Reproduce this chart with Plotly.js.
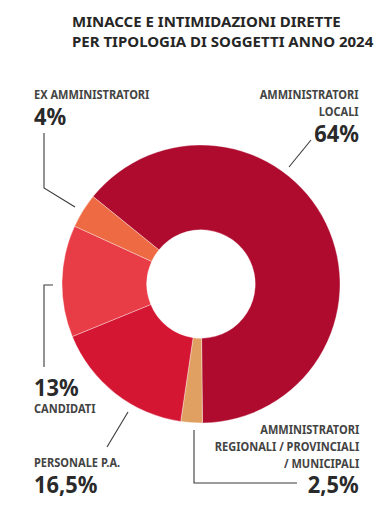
<!DOCTYPE html>
<html>
<head>
<meta charset="utf-8">
<script src="https://cdn.plot.ly/plotly-3.0.1.min.js"></script>
<style>
html,body{margin:0;padding:0;background:#fff;}
#chart{width:388px;height:517px;}
#chart text{font-stretch:condensed;}
#chart text.annotation-text{transform-box:fill-box;}
#chart text.annotation-text[text-anchor="start"]{transform-origin:left center;}
#chart text.annotation-text[text-anchor="end"]{transform-origin:right center;}
#chart text.annotation-text[style*="font-size: 13px"]{transform:scaleX(0.85);}
#chart text.annotation-text[style*="font-size: 23px"]{transform:scaleX(0.95);}
</style>
</head>
<body>
<div id="chart"></div>
<script>
// ---- data ----
var categories = ['AMMINISTRATORI<br>LOCALI', 'AMMINISTRATORI<br>REGIONALI / PROVINCIALI<br>/ MUNICIPALI', 'PERSONALE P.A.', 'CANDIDATI', 'EX AMMINISTRATORI'];
var values = [64, 2.5, 16.5, 13, 4];
var sliceColors = ['#ae0b2e', '#e0a062', '#d51633', '#e83c46', '#ee6a43'];
var titleText = 'MINACCE E INTIMIDAZIONI DIRETTE<br>PER TIPOLOGIA DI SOGGETTI ANNO 2024';

// ---- helpers ----
var W = 388, H = 517;
function px(x){ return x / W; }
function py(y){ return 1 - y / H; }
function pct(v){ return String(v).replace('.', ',') + '%'; }
var FONT = 'Noto Sans Condensed, Noto Sans, Open Sans, DejaVu Sans Condensed, sans-serif';
var labelFont = {family: FONT, size: 13, color: '#444444', weight: 'bold'};
var valueFont = {family: FONT, size: 23, color: '#2a2a2a', weight: 'bold'};

// center (201,284), r 139
var cx = 201, cy = 284, R = 139;

var trace = {
  type: 'pie',
  labels: categories,
  values: values,
  sort: false,
  direction: 'clockwise',
  rotation: -51,
  hole: 0.39,
  textinfo: 'none',
  hoverinfo: 'label+value',
  marker: {colors: sliceColors, line: {color: 'rgba(255,255,255,0.6)', width: 0.6}},
  domain: {x: [px(cx - R), px(cx + R)], y: [py(cy + R), py(cy - R)]},
  showlegend: false
};

// label placement (name block, value) per category index
var place = [
  {x: 360, anchor: 'right', nameY: 102.5, valY: 133},   // locali
  {x: 360, anchor: 'right', nameY: 446, valY: 483.5},   // regionali
  {x: 33, anchor: 'left', nameY: 462, valY: 483.5},     // personale
  {x: 33, anchor: 'left', nameY: 407.5, valY: 386.5},   // candidati
  {x: 33, anchor: 'left', nameY: 94, valY: 116}         // ex
];

var annotations = [];
categories.forEach(function(c, i){
  var p = place[i];
  annotations.push({xref: 'paper', yref: 'paper', x: px(p.x), y: py(p.nameY), xanchor: p.anchor, yanchor: 'middle',
    align: p.anchor, text: c, showarrow: false, font: labelFont, borderpad: 0});
  annotations.push({xref: 'paper', yref: 'paper', x: px(p.x), y: py(p.valY), xanchor: p.anchor, yanchor: 'middle',
    align: p.anchor, text: pct(values[i]), showarrow: false, font: valueFont, borderpad: 0});
});

function path(pts){
  return pts.map(function(p, k){ return (k ? 'L' : 'M') + px(p[0]) + ',' + py(p[1]); }).join(' ');
}
var leaders = [
  [[311,140],[289,167]],
  [[194,430],[194,483],[297,483]],
  [[128,412],[107,447]],
  [[53,285],[44,285],[44,367]],
  [[44,133],[44,188],[75,207]]
];
var shapes = leaders.map(function(l){
  return {type: 'path', xref: 'paper', yref: 'paper', path: path(l), line: {color: '#3a3a3a', width: 1.1}};
});

var layout = {
  width: W, height: H,
  margin: {l: 0, r: 0, t: 0, b: 0},
  paper_bgcolor: '#ffffff',
  title: {text: titleText, x: px(72), xanchor: 'left', xref: 'paper', y: py(27.3), yanchor: 'middle', yref: 'paper',
    font: {family: FONT, size: 15, color: '#262626', weight: 'bold'}, automargin: false},
  annotations: annotations,
  shapes: shapes
};

Plotly.newPlot('chart', [trace], layout, {staticPlot: true, displayModeBar: false});
</script>
</body>
</html>
